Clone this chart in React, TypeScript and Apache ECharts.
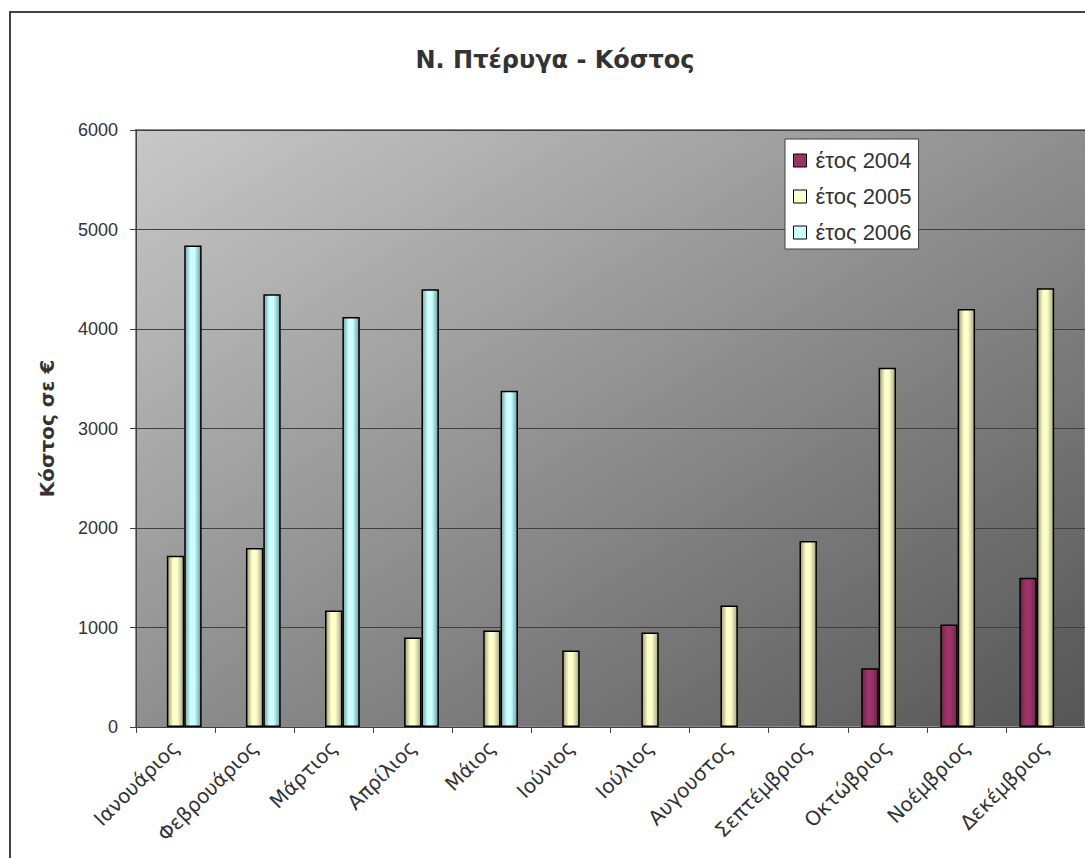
import React, { useEffect, useRef } from "react";
import * as echarts from "echarts";

const months = [
  "Ιανουάριος", "Φεβρουάριος", "Μάρτιος", "Απρίλιος", "Μάιος", "Ιούνιος",
  "Ιούλιος", "Αυγουστος", "Σεπτέμβριος", "Οκτώβριος", "Νοέμβριος", "Δεκέμβριος",
];
const seriesNames = ["έτος 2004", "έτος 2005", "έτος 2006"];
const cost2004 = [null, null, null, null, null, null, null, null, null, 590, 1030, 1500];
const cost2005 = [1720, 1800, 1170, 900, 970, 770, 950, 1220, 1870, 3610, 4200, 4410];
const cost2006 = [4840, 4350, 4120, 4400, 3380, null, null, null, null, null, null, null];
const yTicks = { min: 0, max: 6000, step: 1000 };

const flatColors = ["#993366", "#ffffcc", "#ccffff"];

function barGradient(edge: string, mid: string, dark: string) {
  return new echarts.graphic.LinearGradient(0, 0, 1, 0, [
    { offset: 0, color: edge },
    { offset: 0.35, color: mid },
    { offset: 0.6, color: mid },
    { offset: 1, color: dark },
  ]);
}

export default function App() {
  const ref = useRef<HTMLDivElement>(null);

  useEffect(() => {
    if (!ref.current) return;
    const chart = echarts.init(ref.current, null, { renderer: "svg" });
    const fills = [
      barGradient("#6b2247", "#9c3469", "#70244a"),
      barGradient("#9a9a70", "#ffffcc", "#a8a880"),
      barGradient("#78a8a8", "#ccffff", "#6e9e9e"),
    ];
    const values = [cost2004, cost2005, cost2006];

    chart.setOption({
      animation: false,
      backgroundColor: "#ffffff",
      title: {
        text: "Ν. Πτέρυγα - Κόστος",
        left: 550,
        textAlign: "center",
        top: 43,
        textStyle: {
          fontFamily: "DejaVu Sans, sans-serif",
          fontWeight: "bold",
          fontSize: 24,
          color: "#333333",
        },
      },
      graphic: [
        {
          type: "rect",
          shape: { x: 10, y: 12, width: 1200, height: 1000 },
          style: { fill: "none", stroke: "#404040", lineWidth: 2 },
          silent: true,
          z: 100,
        },
      ],
      legend: {
        orient: "vertical",
        left: 785,
        top: 139,
        padding: [10, 7, 5, 8],
        itemWidth: 13,
        itemHeight: 13,
        itemGap: 13,
        backgroundColor: "#ffffff",
        borderColor: "#404040",
        borderWidth: 1,
        textStyle: {
          fontFamily: "Liberation Sans, Arial, sans-serif",
          fontSize: 22,
          color: "#333333",
          lineHeight: 23,
          padding: [0, 0, 0, 4],
        },
        data: seriesNames.map((name, i) => ({
          name,
          icon: "rect",
          itemStyle: { color: flatColors[i], borderColor: "#000000", borderWidth: 1 },
        })),
      },
      grid: {
        left: 136,
        top: 130,
        width: 953,
        height: 597,
        show: true,
        borderColor: "#8a8a8a",
        borderWidth: 2,
        backgroundColor: new echarts.graphic.LinearGradient(0, 0, 1, 1, [
          { offset: 0, color: "#c8c8c8" },
          { offset: 1, color: "#555555" },
        ]),
      },
      xAxis: {
        type: "category",
        data: months,
        axisLine: { lineStyle: { color: "#404040", width: 1 } },
        axisTick: { show: true, length: 6, lineStyle: { color: "#404040" } },
        axisLabel: {
          rotate: 45,
          interval: 0,
          margin: 17,
          fontFamily: "DejaVu Sans, sans-serif",
          fontSize: 20,
          color: "#333333",
        },
      },
      yAxis: {
        type: "value",
        min: yTicks.min,
        max: yTicks.max,
        interval: yTicks.step,
        name: "Κόστος σε €",
        nameLocation: "middle",
        nameRotate: 90,
        nameGap: 79,
        nameTextStyle: {
          fontFamily: "DejaVu Sans, sans-serif",
          fontWeight: "bold",
          fontSize: 20,
          color: "#333333",
        },
        axisLine: { show: true, lineStyle: { color: "#404040", width: 1 } },
        axisTick: { show: true, length: 6, lineStyle: { color: "#404040" } },
        axisLabel: {
          margin: 18,
          formatter: (v: number) => String(v),
          fontFamily: "Liberation Sans, Arial, sans-serif",
          fontSize: 18,
          color: "#333333",
        },
        splitLine: { show: true, lineStyle: { color: "#404040", width: 1 } },
      },
      series: seriesNames.map((name, i) => ({
        name,
        type: "bar",
        data: values[i],
        barGap: "0%",
        barCategoryGap: "34%",
        itemStyle: { color: fills[i], borderColor: "#000000", borderWidth: 1.5 },
      })),
    });

    return () => chart.dispose();
  }, []);

  return (
    <div
      ref={ref}
      style={{ position: "fixed", left: 0, top: 0, width: 1085, height: 858 }}
    />
  );
}
